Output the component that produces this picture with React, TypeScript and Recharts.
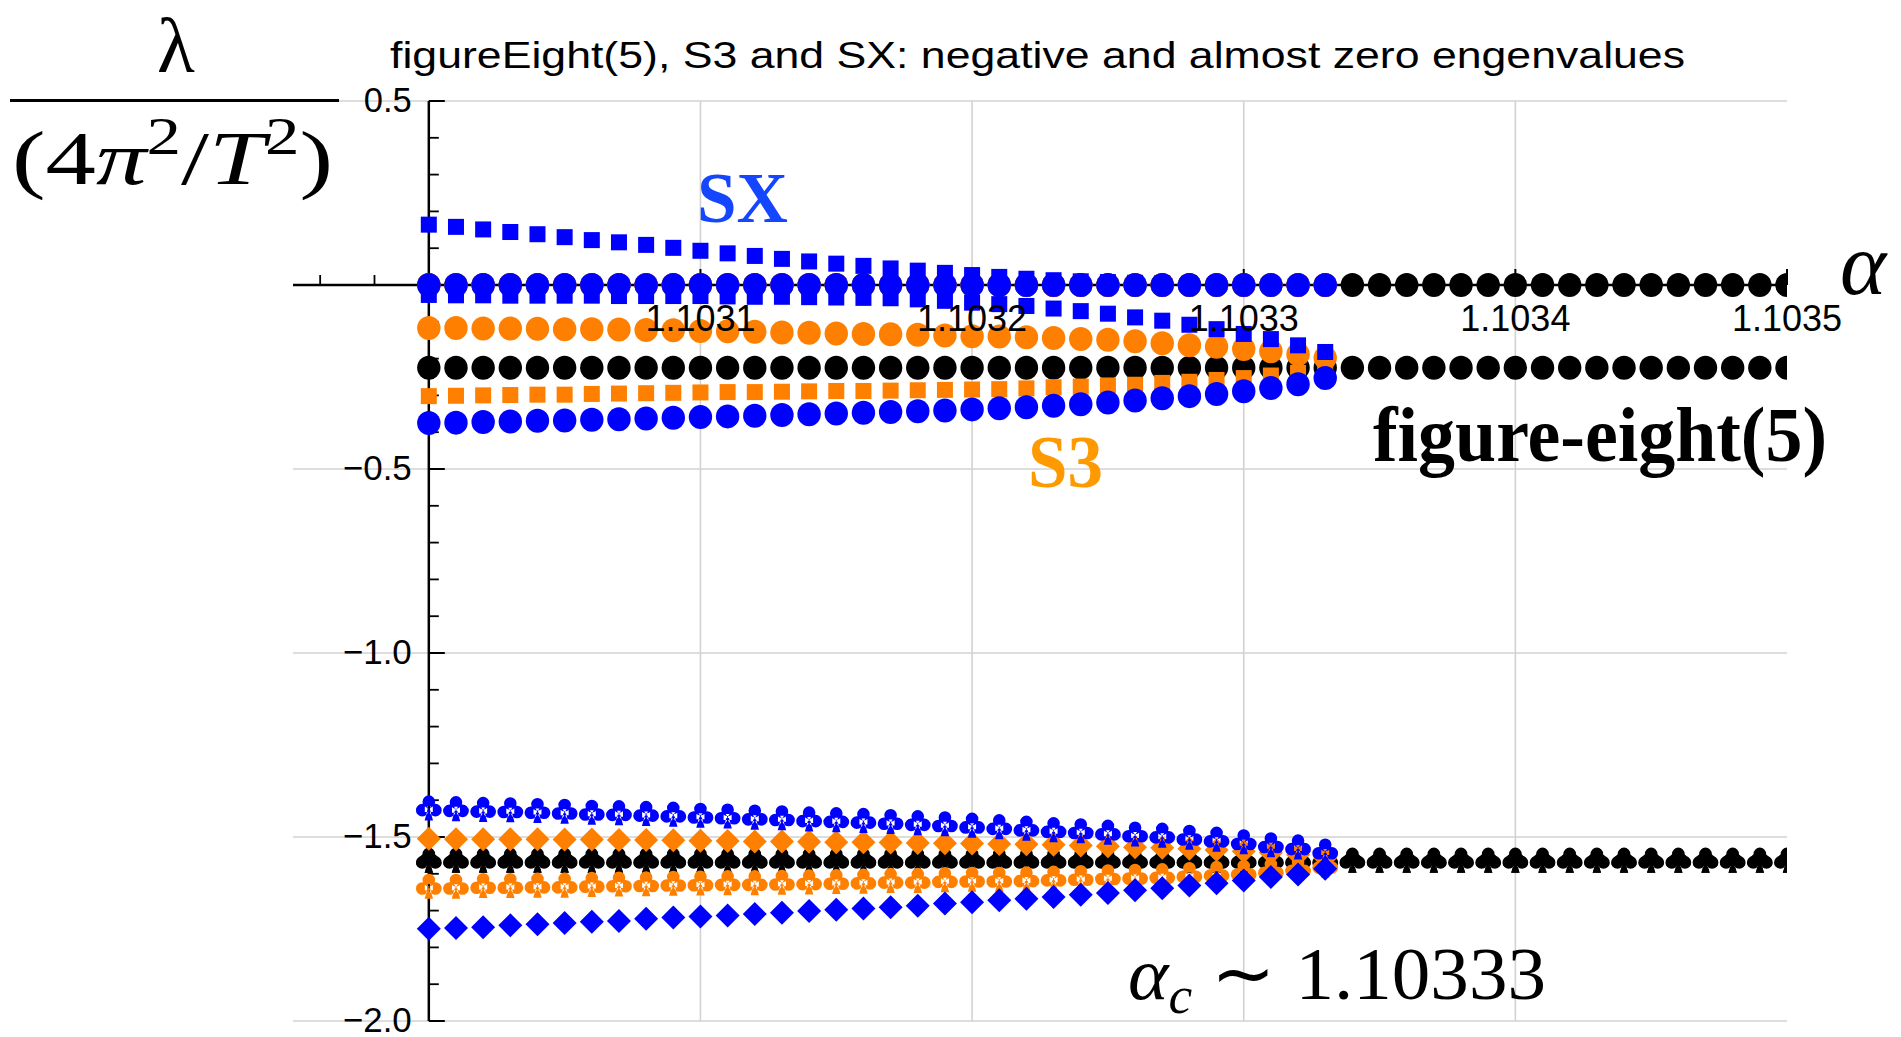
import React from "react";
import {
  ScatterChart,
  Scatter,
  XAxis,
  YAxis,
  CartesianGrid,
  ReferenceLine,
  ReferenceDot,
} from "recharts";

// alpha samples (x)
const alphas = [
  1.103, 1.10301, 1.10302, 1.10303, 1.10304, 1.10305, 1.10306, 1.10307, 1.10308, 1.10309,
  1.1031, 1.10311, 1.10312, 1.10313, 1.10314, 1.10315, 1.10316, 1.10317, 1.10318, 1.10319,
  1.1032, 1.10321, 1.10322, 1.10323, 1.10324, 1.10325, 1.10326, 1.10327, 1.10328, 1.10329,
  1.1033, 1.10331, 1.10332, 1.10333, 1.10334, 1.10335, 1.10336, 1.10337, 1.10338, 1.10339,
  1.1034, 1.10341, 1.10342, 1.10343, 1.10344, 1.10345, 1.10346, 1.10347, 1.10348, 1.10349,
  1.1035,
];

// figure-eight(5), black, whole range
const f8Zero = [
  0, 0, 0, 0, 0, 0, 0, 0, 0, 0, 0, 0, 0, 0, 0, 0, 0, 0, 0, 0, 0, 0, 0, 0, 0, 0,
  0, 0, 0, 0, 0, 0, 0, 0, 0, 0, 0, 0, 0, 0, 0, 0, 0, 0, 0, 0, 0, 0, 0, 0, 0,
];
const f8Circle = [
  -0.225, -0.225, -0.225, -0.225, -0.225, -0.225, -0.225, -0.225, -0.225, -0.225, -0.225,
  -0.225, -0.225, -0.225, -0.225, -0.225, -0.225, -0.225, -0.225, -0.225, -0.225, -0.225,
  -0.225, -0.225, -0.225, -0.225, -0.225, -0.225, -0.225, -0.225, -0.225, -0.225, -0.225,
  -0.225, -0.225, -0.225, -0.225, -0.225, -0.225, -0.225, -0.225, -0.225, -0.225, -0.225,
  -0.225, -0.225, -0.225, -0.225, -0.225, -0.225, -0.225,
];
const f8Spade = [
  -1.563, -1.563, -1.563, -1.563, -1.563, -1.563, -1.563, -1.563, -1.563, -1.563, -1.563,
  -1.563, -1.563, -1.563, -1.563, -1.563, -1.563, -1.563, -1.563, -1.563, -1.563, -1.563,
  -1.563, -1.563, -1.563, -1.563, -1.563, -1.563, -1.563, -1.563, -1.563, -1.563, -1.563,
  -1.563, -1.563, -1.563, -1.563, -1.563, -1.563, -1.563, -1.563, -1.563, -1.563, -1.563,
  -1.563, -1.563, -1.563, -1.563, -1.563, -1.563, -1.563,
];
const f8Club = f8Spade;

// S3, orange, up to alpha_c
const s3Zero = [
  0, 0, 0, 0, 0, 0, 0, 0, 0, 0, 0, 0, 0, 0, 0, 0, 0,
  0, 0, 0, 0, 0, 0, 0, 0, 0, 0, 0, 0, 0, 0, 0, 0, 0,
];
const s3Circle = [
  -0.117, -0.117, -0.118, -0.118, -0.119, -0.12, -0.12, -0.121, -0.122, -0.123, -0.125,
  -0.126, -0.127, -0.129, -0.13, -0.132, -0.133, -0.134, -0.135, -0.137, -0.139, -0.14,
  -0.142, -0.144, -0.147, -0.149, -0.153, -0.158, -0.164, -0.168, -0.174, -0.18, -0.188,
  -0.198,
];
const s3Square = [
  -0.302, -0.301, -0.3, -0.299, -0.298, -0.298, -0.296, -0.295, -0.294, -0.293, -0.292,
  -0.291, -0.291, -0.29, -0.289, -0.288, -0.288, -0.287, -0.286, -0.285, -0.284, -0.283,
  -0.281, -0.278, -0.276, -0.273, -0.271, -0.266, -0.263, -0.258, -0.253, -0.246, -0.239,
  -0.226,
];
const s3Diamond = [
  -1.505, -1.506, -1.506, -1.506, -1.506, -1.507, -1.507, -1.508, -1.508, -1.509, -1.51,
  -1.511, -1.512, -1.512, -1.513, -1.514, -1.514, -1.515, -1.516, -1.517, -1.518, -1.519,
  -1.52, -1.521, -1.523, -1.525, -1.528, -1.529, -1.532, -1.535, -1.539, -1.543, -1.548,
  -1.557,
];
const s3Club = [
  -1.634, -1.634, -1.632, -1.632, -1.631, -1.631, -1.629, -1.628, -1.627, -1.626, -1.625,
  -1.624, -1.624, -1.623, -1.622, -1.621, -1.62, -1.618, -1.618, -1.616, -1.615, -1.615,
  -1.614, -1.612, -1.61, -1.608, -1.607, -1.605, -1.602, -1.599, -1.596, -1.591, -1.586,
  -1.577,
];

// SX, blue, up to alpha_c
const sxZero = [
  0, 0, 0, 0, 0, 0, 0, 0, 0, 0, 0, 0, 0, 0, 0, 0, 0,
  0, 0, 0, 0, 0, 0, 0, 0, 0, 0, 0, 0, 0, 0, 0, 0, 0,
];
const sxSquareUp = [
  0.164, 0.158, 0.151, 0.144, 0.138, 0.13, 0.122, 0.116, 0.109, 0.101, 0.093, 0.086, 0.079,
  0.071, 0.064, 0.058, 0.052, 0.045, 0.039, 0.033, 0.027, 0.022, 0.017, 0.013, 0.01, 0.008,
  0.006, 0.005, 0.004, 0.003, 0.002, 0.001, 0.001, 0.0,
];
const sxSquareDown = [
  -0.027, -0.028, -0.028, -0.029, -0.029, -0.029, -0.029, -0.03, -0.03, -0.03, -0.03, -0.031,
  -0.032, -0.032, -0.033, -0.034, -0.035, -0.036, -0.039, -0.043, -0.048, -0.052, -0.057,
  -0.064, -0.071, -0.078, -0.088, -0.097, -0.108, -0.12, -0.133, -0.147, -0.164, -0.182,
];
const sxCircle = [
  -0.375, -0.374, -0.372, -0.371, -0.369, -0.368, -0.366, -0.365, -0.363, -0.361, -0.359,
  -0.357, -0.355, -0.353, -0.351, -0.349, -0.347, -0.345, -0.343, -0.341, -0.338, -0.335,
  -0.332, -0.328, -0.324, -0.319, -0.314, -0.308, -0.302, -0.296, -0.289, -0.28, -0.27,
  -0.253,
];
const sxClub = [
  -1.421, -1.423, -1.425, -1.426, -1.428, -1.43, -1.433, -1.434, -1.436, -1.438, -1.441,
  -1.443, -1.446, -1.448, -1.451, -1.453, -1.455, -1.458, -1.461, -1.464, -1.468, -1.472,
  -1.476, -1.48, -1.483, -1.487, -1.492, -1.495, -1.501, -1.506, -1.513, -1.521, -1.527,
  -1.538,
];
const sxDiamond = [
  -1.749, -1.747, -1.745, -1.74, -1.737, -1.734, -1.73, -1.728, -1.722, -1.719, -1.716,
  -1.713, -1.709, -1.706, -1.701, -1.698, -1.694, -1.691, -1.687, -1.681, -1.677, -1.672,
  -1.668, -1.663, -1.657, -1.652, -1.645, -1.639, -1.632, -1.626, -1.618, -1.609, -1.602,
  -1.586,
];

// axes and ticks
const xDomain = [1.10295, 1.1035];
const yDomain = [-2, 0.5];
const xMajorTicks = [1.1031, 1.1032, 1.1033, 1.1034, 1.1035];
const xTickLabels = ["1.1031", "1.1032", "1.1033", "1.1034", "1.1035"];
const xMinorTicks = [
  1.10296, 1.10298, 1.10302, 1.10304, 1.10306, 1.10308, 1.10312, 1.10314, 1.10316, 1.10318,
  1.10322, 1.10324, 1.10326, 1.10328, 1.10332, 1.10334, 1.10336, 1.10338, 1.10342, 1.10344,
  1.10346, 1.10348,
];
const yMajorTicks = [0.5, -0.5, -1, -1.5, -2];
const yTickLabels = ["0.5", "\u22120.5", "\u22121.0", "\u22121.5", "\u22122.0"];
const yMinorTicks = [
  0.4, 0.3, 0.2, 0.1, -0.1, -0.2, -0.3, -0.4, -0.6, -0.7, -0.8, -0.9, -1.1, -1.2, -1.3, -1.4,
  -1.6, -1.7, -1.8, -1.9,
];
const xGrid = [1.1031, 1.1032, 1.1033, 1.1034];
const yGrid = [0.5, -0.5, -1, -1.5, -2];
const yAxisAt = 1.103;

const BLUE = "#0000ff";
const ORANGE = "#ff8000";
const BLACK = "#000000";

// tick lengths in data units (plot is ~1494 x 920 px)
const X_PER_PX = 0.00055 / 1494;
const Y_PER_PX = 2.5 / 920;

const toPoints = (vals: number[]) => vals.map((v, i) => ({ x: alphas[i], y: v }));

const CLUB =
  "M -6.3 -6.3 a 6.3 6.3 0 1 0 12.6 0 a 6.3 6.3 0 1 0 -12.6 0 Z " +
  "M -12.9 2.2 a 6.3 6.3 0 1 0 12.6 0 a 6.3 6.3 0 1 0 -12.6 0 Z " +
  "M 0.3 2.2 a 6.3 6.3 0 1 0 12.6 0 a 6.3 6.3 0 1 0 -12.6 0 Z " +
  "M -4 -2 L 4 -2 L 4 4 L -4 4 Z " +
  "M -1.3 2 L 1.3 2 L 4.2 12.5 L -4.2 12.5 Z";
const SPADE =
  "M 0 -12.5 C 3 -7 12.5 -3 12.5 3 C 12.5 8 6 9.5 1.5 5.5 L 4.2 12.5 L -4.2 12.5 L -1.5 5.5 " +
  "C -6 9.5 -12.5 8 -12.5 3 C -12.5 -3 -3 -7 0 -12.5 Z";

const Marker = ({ cx, cy, kind, fill }: any) => {
  if (cx == null || cy == null) return null;
  if (kind === "circle") return <ellipse cx={cx} cy={cy} rx={11.7} ry={12} fill={fill} />;
  if (kind === "square")
    return <rect x={cx - 8} y={cy - 8} width={16} height={16} fill={fill} />;
  if (kind === "diamond")
    return (
      <polygon
        points={`${cx},${cy - 12} ${cx + 12},${cy} ${cx},${cy + 12} ${cx - 12},${cy}`}
        fill={fill}
      />
    );
  const d = kind === "club" ? CLUB : SPADE;
  return <path transform={`translate(${cx},${cy})`} d={d} fill={fill} />;
};

const series = [
  { key: "f8Zero", vals: f8Zero, kind: "circle", color: BLACK },
  { key: "f8Circle", vals: f8Circle, kind: "circle", color: BLACK },
  { key: "f8Spade", vals: f8Spade, kind: "spade", color: BLACK },
  { key: "f8Club", vals: f8Club, kind: "club", color: BLACK },
  { key: "s3Zero", vals: s3Zero, kind: "circle", color: ORANGE },
  { key: "s3Circle", vals: s3Circle, kind: "circle", color: ORANGE },
  { key: "s3Square", vals: s3Square, kind: "square", color: ORANGE },
  { key: "s3Diamond", vals: s3Diamond, kind: "diamond", color: ORANGE },
  { key: "s3Club", vals: s3Club, kind: "club", color: ORANGE },
  { key: "sxSquareUp", vals: sxSquareUp, kind: "square", color: BLUE },
  { key: "sxSquareDown", vals: sxSquareDown, kind: "square", color: BLUE },
  { key: "sxZero", vals: sxZero, kind: "circle", color: BLUE },
  { key: "sxCircle", vals: sxCircle, kind: "circle", color: BLUE },
  { key: "sxClub", vals: sxClub, kind: "club", color: BLUE },
  { key: "sxDiamond", vals: sxDiamond, kind: "diamond", color: BLUE },
];

const sans = "'Liberation Sans', Arial, Helvetica, sans-serif";
const serif = "'Liberation Serif', 'Times New Roman', serif";

const App = () => {
  return (
    <div style={{ position: "absolute", left: 0, top: 0, width: 1901, height: 1037, background: "#fff" }}>
      <ScatterChart width={1901} height={1037} margin={{ top: 101, right: 114, bottom: 16, left: 293 }}>
        <CartesianGrid
          stroke="#d2d2d2"
          strokeWidth={1.6}
          horizontalValues={yGrid}
          verticalValues={xGrid}
        />
        <XAxis type="number" dataKey="x" domain={xDomain} allowDataOverflow hide />
        <YAxis type="number" dataKey="y" domain={yDomain} allowDataOverflow hide />

        {series.map((s) => (
          <Scatter
            key={s.key}
            name={s.key}
            data={toPoints(s.vals)}
            fill={s.color}
            isAnimationActive={false}
            shape={(p: any) => <Marker cx={p.cx} cy={p.cy} kind={s.kind} fill={s.color} />}
          />
        ))}

        {/* axes drawn on top of the markers */}
        <ReferenceLine y={0} stroke="#000" strokeWidth={2.5} ifOverflow="visible" />
        <ReferenceLine x={yAxisAt} stroke="#000" strokeWidth={2.5} ifOverflow="visible" />
        {xMajorTicks.map((t) => (
          <ReferenceLine
            key={"xM" + t}
            segment={[{ x: t, y: 0 }, { x: t, y: 16 * Y_PER_PX }]}
            stroke="#000"
            strokeWidth={2}
            ifOverflow="visible"
          />
        ))}
        {xMinorTicks.map((t) => (
          <ReferenceLine
            key={"xm" + t}
            segment={[{ x: t, y: 0 }, { x: t, y: 10 * Y_PER_PX }]}
            stroke="#000"
            strokeWidth={1.8}
            ifOverflow="visible"
          />
        ))}
        {yMajorTicks.map((t) => (
          <ReferenceLine
            key={"yM" + t}
            segment={[{ x: yAxisAt, y: t }, { x: yAxisAt + 16 * X_PER_PX, y: t }]}
            stroke="#000"
            strokeWidth={2}
            ifOverflow="visible"
          />
        ))}
        {yMinorTicks.map((t) => (
          <ReferenceLine
            key={"ym" + t}
            segment={[{ x: yAxisAt, y: t }, { x: yAxisAt + 10 * X_PER_PX, y: t }]}
            stroke="#000"
            strokeWidth={1.8}
            ifOverflow="visible"
          />
        ))}
        {xMajorTicks.map((t, i) => (
          <ReferenceDot
            key={"xl" + t}
            x={t}
            y={0}
            r={1}
            fill="none"
            stroke="none"
            ifOverflow="visible"
            label={(p: any) => (
              <text
                x={p.viewBox.x + p.viewBox.width / 2}
                y={p.viewBox.y + 47}
                textAnchor="middle"
                fontFamily={sans}
                fontSize={36}
                fill="#000"
              >
                {xTickLabels[i]}
              </text>
            )}
          />
        ))}
        {yMajorTicks.map((t, i) => (
          <ReferenceDot
            key={"yl" + t}
            x={yAxisAt}
            y={t}
            r={1}
            fill="none"
            stroke="none"
            ifOverflow="visible"
            label={(p: any) => (
              <text
                x={p.viewBox.x - 16}
                y={p.viewBox.y + 12}
                textAnchor="end"
                fontFamily={sans}
                fontSize={35}
                fill="#000"
                textLength={yTickLabels[i].length > 3 ? 69 : 48}
                lengthAdjust="spacingAndGlyphs"
              >
                {yTickLabels[i]}
              </text>
            )}
          />
        ))}
      </ScatterChart>

      {/* titles and annotations */}
      <svg
        width={1901}
        height={1037}
        style={{ position: "absolute", left: 0, top: 0, pointerEvents: "none" }}
      >
        <text x={390} y={68} fontFamily={sans} fontSize={37} textLength={1295} lengthAdjust="spacingAndGlyphs">
          figureEight(5), S3 and SX: negative and almost zero engenvalues
        </text>
        <text x={176} y={72} textAnchor="middle" fontFamily={serif} fontSize={78}>
          λ
        </text>
        <line x1={10} x2={339} y1={100.6} y2={100.6} stroke="#000" strokeWidth={3} />
        <text x={12} y={184} fontFamily={serif} fontSize={76} textLength={321} lengthAdjust="spacingAndGlyphs">
          (4<tspan fontStyle="italic">π</tspan>
          <tspan fontSize={52} dy={-30}>2</tspan>
          <tspan dy={30}>/</tspan>
          <tspan fontStyle="italic">T</tspan>
          <tspan fontSize={52} dy={-30}>2</tspan>
          <tspan dy={30}>)</tspan>
        </text>
        <text x={697} y={222} fontFamily={serif} fontWeight="bold" fontSize={72} fill="#1446ff" textLength={91} lengthAdjust="spacingAndGlyphs">
          SX
        </text>
        <text x={1028} y={487} fontFamily={serif} fontWeight="bold" fontSize={74} fill="#ff9900" textLength={75} lengthAdjust="spacingAndGlyphs">
          S3
        </text>
        <text x={1373} y={461} fontFamily={serif} fontWeight="bold" fontSize={78} fill="#000" textLength={454} lengthAdjust="spacingAndGlyphs">
          figure-eight(5)
        </text>
        <text x={1840} y={294} fontFamily={serif} fontStyle="italic" fontSize={88} fill="#000">
          α
        </text>
        <text x={1128} y={999} fontFamily={serif} fontSize={75} fill="#000" textLength={418} lengthAdjust="spacingAndGlyphs">
          <tspan fontStyle="italic">α</tspan>
          <tspan fontStyle="italic" fontSize={52} dy={14}>c</tspan>
          <tspan dy={-14}> ∼ 1.10333</tspan>
        </text>
      </svg>
    </div>
  );
};

export default App;
